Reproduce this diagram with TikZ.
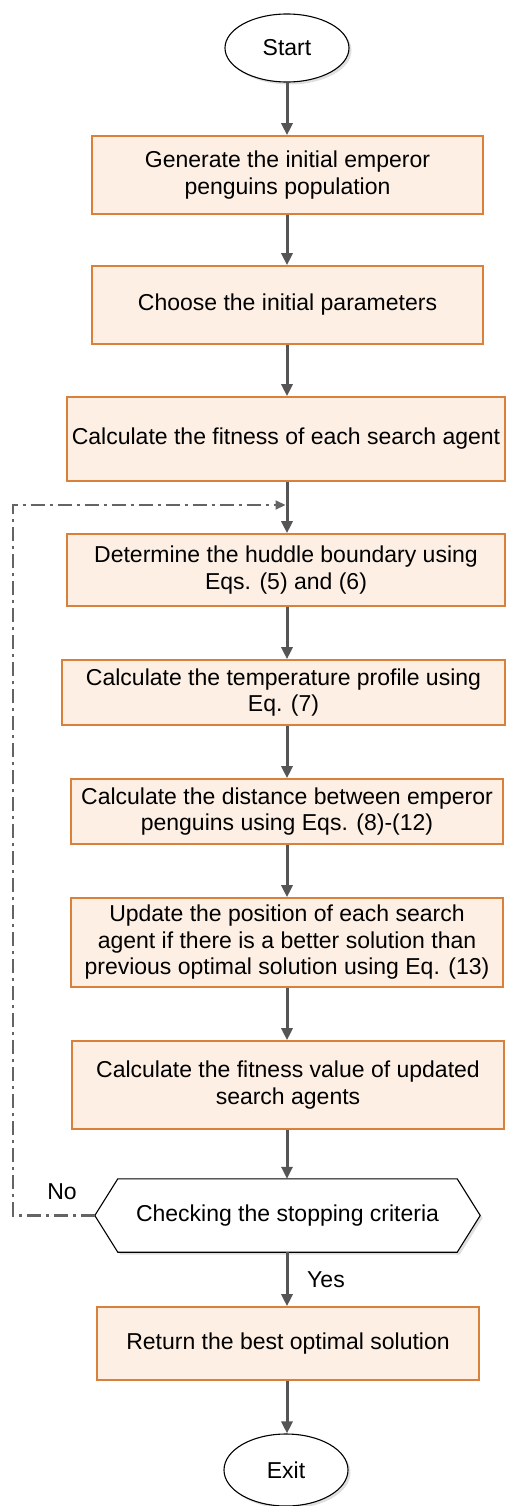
\documentclass[tikz,border=0pt]{standalone}
\usepackage{fontspec}
\setmainfont{Liberation Sans}
\usetikzlibrary{arrows.meta,shadows,shapes.geometric}
\definecolor{boxfill}{RGB}{253,239,227}
\definecolor{boxline}{RGB}{217,128,58}
\definecolor{arrgray}{RGB}{85,85,85}
\definecolor{loopgray}{RGB}{100,100,100}
\tikzset{
  every node/.style={font=\fontsize{23}{26.5}\selectfont, inner sep=0pt, align=center},
  procbox/.style={draw=boxline, fill=boxfill, line width=1.6pt, rectangle},
  termnode/.style={draw=black, fill=white, line width=1.1pt, ellipse,
     drop shadow={shadow xshift=2.5pt, shadow yshift=-2.5pt, opacity=0.25}},
  flowarrow/.style={draw=arrgray, line width=3pt, -{Triangle[length=12pt,width=11pt]}},
  looparrow/.style={draw=loopgray, line width=2.2pt, dash pattern=on 14pt off 5pt on 3pt off 5pt,
     -{Triangle[length=10pt,width=9pt]}},
}
\begin{document}
\begin{tikzpicture}[x=1pt,y=1pt]
\path[use as bounding box] (0,0) rectangle (506,-1506);
\coordinate (axis) at (287,0);

\node[termnode, minimum width=124pt, minimum height=68pt] (start) at (287,-48) {Start};
\node[procbox, minimum width=391pt, minimum height=78pt] (b1) at (287.5,-175) {Generate the initial emperor\\penguins population};
\node[procbox, minimum width=391pt, minimum height=78pt] (b2) at (287.5,-305) {Choose the initial parameters};
\node[procbox, minimum width=438pt, minimum height=84pt] (b3) at (286,-439) {Calculate the fitness of each search agent};
\node[procbox, minimum width=438pt, minimum height=72pt] (b4) at (286,-570) {Determine the huddle boundary using\\Eqs. (5) and (6)};
\node[procbox, minimum width=443pt, minimum height=65pt] (b5) at (283.5,-692.5) {Calculate the temperature profile using\\Eq. (7)};
\node[procbox, minimum width=432pt, minimum height=65pt] (b6) at (287,-811.5) {Calculate the distance between emperor\\penguins using Eqs. (8)-(12)};
\node[procbox, minimum width=432pt, minimum height=89pt] (b7) at (287,-942.5) {Update the position of each search\\agent if there is a better solution than\\previous optimal solution using Eq. (13)};
\node[procbox, minimum width=432pt, minimum height=88pt] (b8) at (288,-1085) {Calculate the fitness value of updated\\search agents};
\node[minimum width=385pt, minimum height=73pt] (hex) at (287.5,-1215.5) {};
\path[draw=black, fill=white, line width=1.1pt,
      drop shadow={shadow xshift=2.5pt, shadow yshift=-2.5pt, opacity=0.25}]
  (hex.west) -- ([xshift=23pt]hex.north west) -- ([xshift=-23pt]hex.north east) -- (hex.east)
  -- ([xshift=-23pt]hex.south east) -- ([xshift=23pt]hex.south west) -- cycle;
\node at (hex.center) {Checking the stopping criteria};
\node[procbox, minimum width=382pt, minimum height=73pt] (b9) at (288,-1343.5) {Return the best optimal solution};
\node[termnode, minimum width=124pt, minimum height=72pt] (exit) at (286,-1470) {Exit};

\draw[flowarrow] (start.south -| axis) -- (b1.north -| axis);
\draw[flowarrow] (b1.south -| axis) -- (b2.north -| axis);
\draw[flowarrow] (b2.south -| axis) -- (b3.north -| axis);
\draw[flowarrow] (b3.south -| axis) -- (b4.north -| axis);
\draw[flowarrow] (b4.south -| axis) -- (b5.north -| axis);
\draw[flowarrow] (b5.south -| axis) -- (b6.north -| axis);
\draw[flowarrow] (b6.south -| axis) -- (b7.north -| axis);
\draw[flowarrow] (b7.south -| axis) -- (b8.north -| axis);
\draw[flowarrow] (b8.south -| axis) -- (hex.north -| axis);
\draw[flowarrow] (hex.south -| axis) -- (b9.north -| axis);
\draw[flowarrow] (b9.south -| axis) -- (exit.north -| axis);

\coordinate (loopin) at (287,-505);
\draw[looparrow] (hex.west) -- (13,-1215.5) -- (13,-505) -- ([xshift=-1.5pt]loopin);

\node (no) at (62,-1192) {No};
\node (yes) at (326,-1280) {Yes};
\end{tikzpicture}
\end{document}
